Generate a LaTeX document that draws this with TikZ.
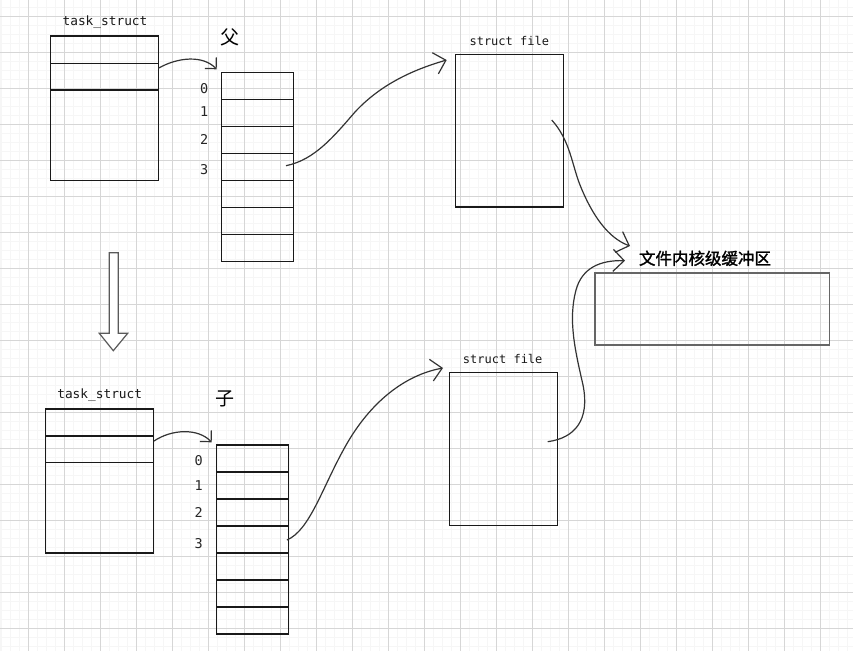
\documentclass[tikz,border=0pt]{standalone}
\usepackage{fontspec}
\newfontfamily\cjk{Noto Sans CJK SC}
\newfontfamily\cjkb[FakeBold=1.5]{Noto Sans CJK SC}
\newfontfamily\hand{DejaVu Sans Mono}
\usetikzlibrary{arrows.meta}
\definecolor{gridmaj}{HTML}{D6D6D6}
\definecolor{gridmin}{HTML}{F6F6F6}
\definecolor{curvec}{HTML}{333333}
\tikzset{
  box/.style={draw=black!90, line width=1.3pt, rectangle, inner sep=0pt, outer sep=0pt, anchor=north west},
  graybox/.style={draw=black!60, line width=1.6pt, rectangle, inner sep=0pt, outer sep=0pt, anchor=north west},
  rowline/.style={draw=black!90, line width=1.3pt},
  conn/.style={draw=curvec, line width=1.2pt, -{Straight Barb[length=8pt,width=16pt,line width=1.2pt]}},
  bigconn/.style={draw=curvec, line width=1.2pt, -{Straight Barb[length=11pt,width=22pt,line width=1.2pt]}},
  lbl/.style={font=\hand\fontsize{12.8}{14}\selectfont, inner sep=0pt, text=black!90},
  idx/.style={font=\hand\fontsize{13.5}{14}\selectfont, inner sep=0pt, text=black!85},
  cjklbl/.style={font=\cjk\fontsize{19}{20}\selectfont, inner sep=0pt},
}
\begin{document}
\begin{tikzpicture}[x=1pt, y=-1pt]
\useasboundingbox (0,0) rectangle (853,651);
\fill[white] (0,0) rectangle (853,651);
% grid
\begin{scope}
\clip (0,0) rectangle (853,651);
\foreach \i in {0,...,95} {
  \draw[gridmin, line width=1.6pt] ({1.3+9*\i},0) -- ({1.3+9*\i},651);
}
\foreach \j in {0,...,73} {
  \draw[gridmin, line width=1.6pt] (0,{7.3+9*\j}) -- (853,{7.3+9*\j});
}
\foreach \i in {0,...,23} {
  \draw[gridmaj, line width=0.9pt] ({28.3+36*\i},0) -- ({28.3+36*\i},651);
}
\foreach \j in {0,...,17} {
  \draw[gridmaj, line width=0.9pt] (0,{16.3+36*\j}) -- (853,{16.3+36*\j});
}
\end{scope}

% ---------- top (parent) ----------
\node[box, minimum width=107.6pt, minimum height=144.3pt] (ts1) at (50.7,36) {};
\draw[rowline] (ts1.west |- 0,63.3) -- (ts1.east |- 0,63.3);
\draw[rowline] (ts1.west |- 0,90) -- (ts1.east |- 0,90);
\node[lbl] (ts1lab) at (105,22.5) {task\_struct};

\node[cjklbl] (fu) at (230,37) {父};

\node[box, minimum width=72.4pt, minimum height=189pt] (arr1) at (221.3,72.3) {};
\foreach \k in {1,...,6} {
  \draw[rowline] (arr1.west |- 0,{72.3+27*\k}) -- (arr1.east |- 0,{72.3+27*\k});
}
\node[idx] (i10) at (204.3,89) {0};
\node[idx] (i11) at (204.3,111.7) {1};
\node[idx] (i12) at (204.3,139) {2};
\node[idx] (i13) at (204.3,169.3) {3};

\node[box, minimum width=108pt, minimum height=152.7pt] (sf1) at (455.3,54.3) {};
\node[lbl, font=\hand\fontsize{12}{14}\selectfont] (sf1lab) at (509.3,41.3) {struct file};

% ---------- arrow down ----------
\draw[draw=black!65, line width=1.2pt, fill=white]
  (109.3,252.7) -- (118.3,252.7) -- (118.3,333.3) -- (127.7,333.3) -- (113.3,350.7)
  -- (99.3,333.3) -- (109.3,333.3) -- cycle;

% ---------- bottom (child) ----------
\node[box, minimum width=108pt, minimum height=144pt] (ts2) at (45.3,409) {};
\draw[rowline] (ts2.west |- 0,436) -- (ts2.east |- 0,436);
\draw[rowline] (ts2.west |- 0,462.7) -- (ts2.east |- 0,462.7);
\node[lbl] (ts2lab) at (99.7,395) {task\_struct};

\node[cjklbl] (zi) at (225,399) {子};

\node[box, minimum width=71.6pt, minimum height=189pt] (arr2) at (216.7,445) {};
\foreach \k in {1,...,6} {
  \draw[rowline] (arr2.west |- 0,{445+27*\k}) -- (arr2.east |- 0,{445+27*\k});
}
\node[idx] (i20) at (198.7,461) {0};
\node[idx] (i21) at (198.7,486) {1};
\node[idx] (i22) at (198.7,512.3) {2};
\node[idx] (i23) at (198.7,543.3) {3};

\node[box, minimum width=108pt, minimum height=153pt] (sf2) at (449.3,372.7) {};
\node[lbl, font=\hand\fontsize{12}{14}\selectfont] (sf2lab) at (502.7,359.3) {struct file};

% ---------- kernel buffer ----------
\node[graybox, minimum width=234.3pt, minimum height=72.3pt] (kb) at (595,272.7) {};
\node[font=\cjkb\fontsize{16.5}{18}\selectfont, inner sep=0pt] (kblab) at (705,258.3) {文件内核级缓冲区};

% ---------- connector end points ----------
\coordinate (a1s) at (158.3,68.3);
\coordinate (a1e) at (216.7,69.3);
\coordinate (b1s) at (286,165.7);
\coordinate (b1e) at (446.7,60);
\coordinate (c1s) at (551.7,120);
\coordinate (c1e) at (630,246);
\coordinate (a2s) at (154,441);
\coordinate (a2e) at (211.7,442.3);
\coordinate (b2s) at (287,540);
\coordinate (b2e) at (443,368);
\coordinate (c2s) at (547.7,441.7);
\coordinate (c2e) at (625,260.7);

% ---------- connectors ----------
\draw[conn] (a1s) .. controls (178,57) and (203,55) .. (a1e);
\draw[bigconn] (b1s) .. controls (315,160) and (335,135) .. (355,112)
   .. controls (380,85) and (412,70) .. (b1e);
\draw[bigconn] (c1s) .. controls (570,140) and (572,165) .. (580,185)
   .. controls (592,215) and (608,238) .. (c1e);

\draw[conn] (a2s) .. controls (172,429) and (198,428) .. (a2e);
\draw[bigconn] (b2s) .. controls (310,530) and (322,488) .. (345,447)
   .. controls (370,402) and (405,375) .. (b2e);
\draw[bigconn] (c2s) .. controls (575,438) and (590,420) .. (583,385)
   .. controls (575,350) and (568,320) .. (576,290)
   .. controls (582,268) and (600,260) .. (c2e);
\end{tikzpicture}
\end{document}
